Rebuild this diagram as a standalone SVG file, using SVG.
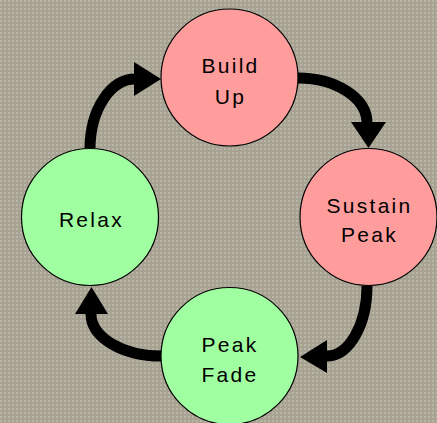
<svg xmlns="http://www.w3.org/2000/svg" width="437" height="423" viewBox="0 0 437 423">
<defs>
<pattern id="bg" width="4" height="4" patternUnits="userSpaceOnUse">
<rect width="4" height="4" fill="#a7a292"/>
<rect width="2" height="2" fill="#b9b5a7"/>
</pattern>
<style>
.node circle{stroke:#000;stroke-width:1.2}
.hot{fill:#ff9d9d}
.cool{fill:#a0ffa0}
text{font-family:"Liberation Sans",Arial,sans-serif;font-size:21px;letter-spacing:2.3px;text-anchor:middle;fill:#000}
.arc{fill:none;stroke:#000;stroke-width:11}
.head{fill:#000}
</style>
</defs>
<rect width="437" height="423" fill="url(#bg)"/>
<g id="connectors">
<path class="arc" d="M298,78 A69,45 0 0 1 367,123"/>
<polygon class="head" points="351,122 386,122 368.5,148"/>
<path class="arc" d="M367,286 A40,70 0 0 1 327,356"/>
<polygon class="head" points="327,340 327,373 300,357"/>
<path class="arc" d="M161,356 A70,42 0 0 1 91,314"/>
<polygon class="head" points="75,314 108,314 91.5,287"/>
<path class="arc" d="M90,148 A45,70 0 0 1 135,79"/>
<polygon class="head" points="134,62 134,96 161,79"/>
</g>
<g id="node-build-up" class="node">
<circle class="hot" cx="229.5" cy="77.5" r="68.5"/>
<text x="230.5" y="72.7">Build</text>
<text x="230.5" y="104">Up</text>
</g>
<g id="node-sustain-peak" class="node">
<circle class="hot" cx="368.5" cy="217" r="68.5"/>
<text x="369.5" y="212.7">Sustain</text>
<text x="369.5" y="242">Peak</text>
</g>
<g id="node-peak-fade" class="node">
<circle class="cool" cx="229.5" cy="356" r="68.5"/>
<text x="230" y="351.7">Peak</text>
<text x="230" y="382.3">Fade</text>
</g>
<g id="node-relax" class="node">
<circle class="cool" cx="90" cy="217" r="68.5"/>
<text x="91.5" y="227.3">Relax</text>
</g>
</svg>
